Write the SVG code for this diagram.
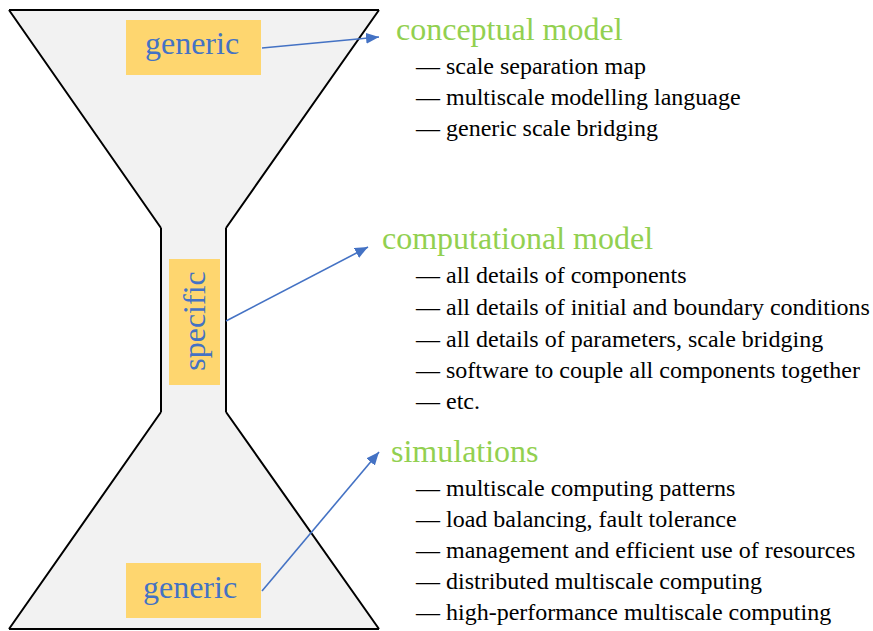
<svg xmlns="http://www.w3.org/2000/svg" width="873" height="631" viewBox="0 0 873 631">
<style>
.shape{fill:#f2f2f2;stroke:none}
.edge{fill:none;stroke:#000;stroke-width:2}
.box{fill:#fed66f}
.lbl{font-family:"Liberation Serif",serif;font-size:32px;fill:#4472c4}
.head{font-family:"Liberation Serif",serif;font-size:32px;fill:#92d050}
.item{font-family:"Liberation Serif",serif;font-size:24px;fill:#000}
.conn{stroke:#4472c4;stroke-width:1.6;fill:none}
</style>
<defs>
<marker id="ah" markerUnits="userSpaceOnUse" markerWidth="14" markerHeight="12" refX="13" refY="5.5" orient="auto">
<path d="M0,0 L13,5.5 L0,11 z" fill="#4472c4"/>
</marker>
</defs>
<g id="hourglass">
<path class="shape" d="M9,10 L379,10 L226,228 L226,412 L379,629 L9,629 L161,412 L161,228 Z"/>
<path class="edge" d="M9,10 L379,10 M9,10 L161,228 M379,10 L226,228 M161,228 L161,412 M226,228 L226,412 M161,412 L9,629 M226,412 L379,629 M9,629 L379,629"/>
</g>
<g id="generic-top">
<rect class="box" x="126" y="20" width="135" height="55"/>
<text class="lbl" x="192" y="54" text-anchor="middle">generic</text>
</g>
<g id="specific">
<rect class="box" x="169" y="259" width="51" height="126"/>
<text class="lbl" transform="translate(205,321) rotate(-90)" text-anchor="middle">specific</text>
</g>
<g id="generic-bottom">
<rect class="box" x="126" y="563" width="135" height="55"/>
<text class="lbl" x="190" y="598" text-anchor="middle">generic</text>
</g>
<g id="connectors">
<line class="conn" x1="262" y1="48" x2="379" y2="37" marker-end="url(#ah)"/>
<line class="conn" x1="226" y1="321" x2="368" y2="247" marker-end="url(#ah)"/>
<line class="conn" x1="262" y1="591" x2="379" y2="452" marker-end="url(#ah)"/>
</g>
<g id="conceptual">
<text class="head" x="396" y="40">conceptual model</text>
<text class="item" x="416" y="74">— scale separation map</text>
<text class="item" x="416" y="105">— multiscale modelling language</text>
<text class="item" x="416" y="136">— generic scale bridging</text>
</g>
<g id="computational">
<text class="head" x="382" y="249">computational model</text>
<text class="item" x="416" y="283">— all details of components</text>
<text class="item" x="416" y="315">— all details of initial and boundary conditions</text>
<text class="item" x="416" y="347">— all details of parameters, scale bridging</text>
<text class="item" x="416" y="378">— software to couple all components together</text>
<text class="item" x="416" y="409">— etc.</text>
</g>
<g id="simulations">
<text class="head" x="391" y="462">simulations</text>
<text class="item" x="416" y="496">— multiscale computing patterns</text>
<text class="item" x="416" y="527">— load balancing, fault tolerance</text>
<text class="item" x="416" y="558">— management and efficient use of resources</text>
<text class="item" x="416" y="589">— distributed multiscale computing</text>
<text class="item" x="416" y="620">— high-performance multiscale computing</text>
</g>
</svg>
